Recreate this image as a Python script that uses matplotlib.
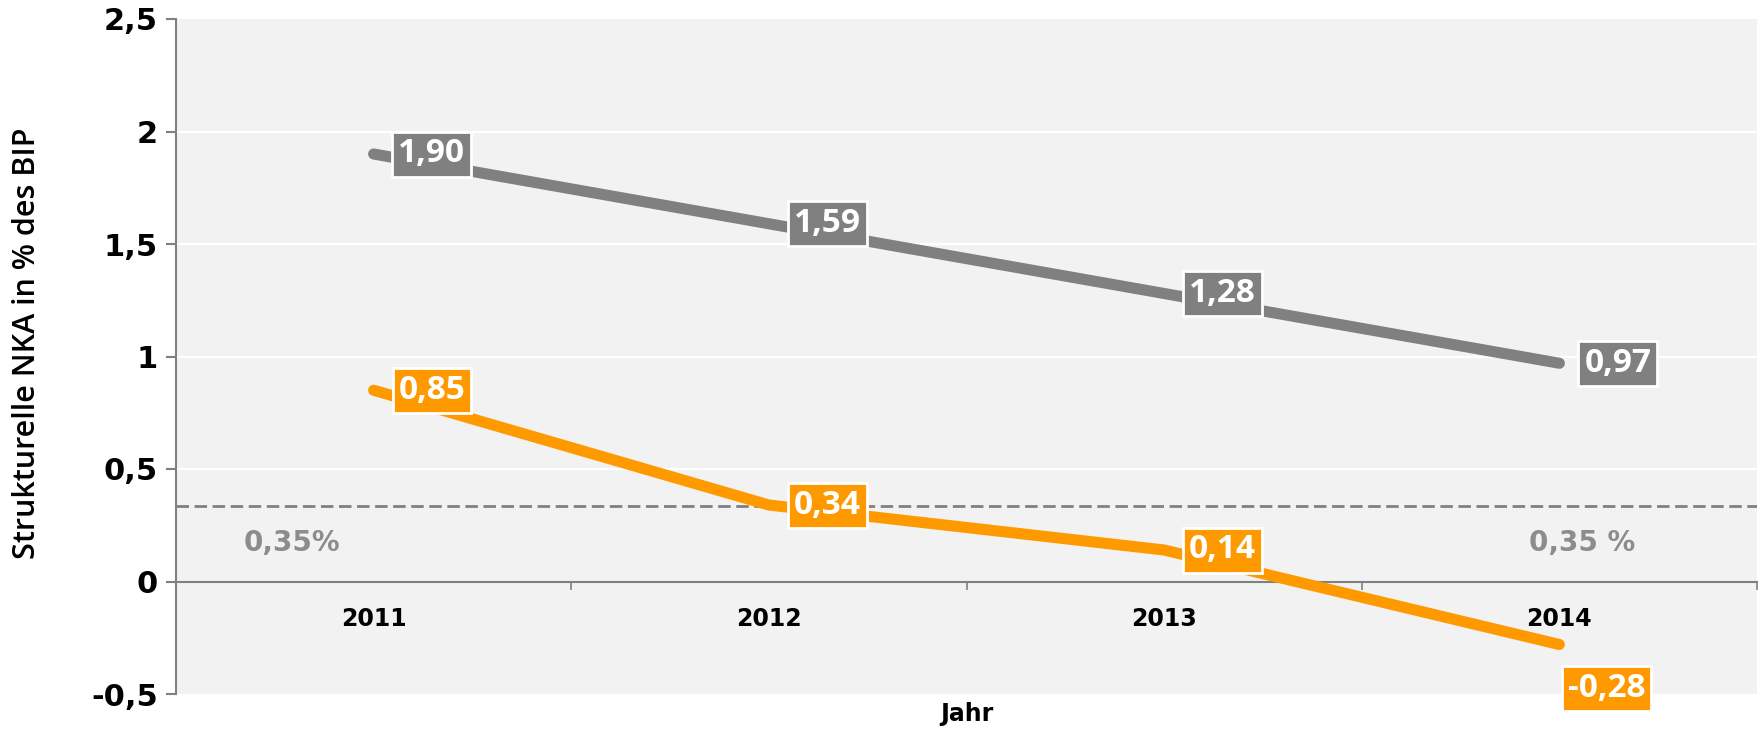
import matplotlib
matplotlib.use('Agg')
import matplotlib.pyplot as plt
import numpy as np

# Daten
jahre = ['2011', '2012', '2013', '2014']
nka_grau = [1.90, 1.59, 1.28, 0.97]
nka_orange = [0.85, 0.34, 0.14, -0.28]
schwelle = 0.335
schwelle_labels = ['0,35%', '0,35 %']
y_ticks = [-0.5, 0, 0.5, 1, 1.5, 2, 2.5]
y_ticklabels = ['-0,5', '0', '0,5', '1', '1,5', '2', '2,5']

GRAU = '#808080'
ORANGE = '#FF9900'
BG = '#F2F2F2'

fig = plt.figure(figsize=(17.61, 7.30), dpi=100)
ax = fig.add_axes([176 / 1761, (730 - 694) / 730, (1757 - 176) / 1761, (694 - 19) / 730])
ax.set_facecolor(BG)

x = np.arange(len(jahre))
ax.set_xlim(-0.5, len(jahre) - 0.5)
ax.set_ylim(-0.5, 2.5)

# Gitter
for yv in y_ticks:
    if yv not in (0, -0.5, 2.5):
        ax.axhline(yv, color='white', lw=1.6, zorder=1)

# Schwelle
ax.axhline(schwelle, color=GRAU, lw=2, dashes=(4.5, 2), zorder=2)
ax.text(-0.206, 0.169, schwelle_labels[0], color='#8C8C8C', fontsize=20,
        fontweight='bold', ha='center', va='center', zorder=2)
ax.text(3.057, 0.169, schwelle_labels[1], color='#8C8C8C', fontsize=20,
        fontweight='bold', ha='center', va='center', zorder=2)

# Linien
ax.plot(x, nka_grau, color=GRAU, lw=8, solid_capstyle='round', zorder=3)
ax.plot(x, nka_orange, color=ORANGE, lw=8, solid_capstyle='round', zorder=3)


def fmt(v):
    return f'{v:.2f}'.replace('.', ',')


def label(xi, yi, farbe, dx=42, dy=0):
    ax.annotate(fmt(yi), (xi, yi), xytext=(dx, dy), textcoords='offset points',
                ha='center', va='center', color='white', fontsize=24,
                family='Open Sans', fontweight='bold', zorder=5,
                annotation_clip=False,
                bbox=dict(boxstyle='square,pad=0.18', fc=farbe, ec='white', lw=2))


for xi, yi in zip(x, nka_grau):
    label(xi, yi, GRAU)
for i, (xi, yi) in enumerate(zip(x, nka_orange)):
    if i == len(x) - 1:
        label(xi, yi, ORANGE, dx=34, dy=-32)
    else:
        label(xi, yi, ORANGE)

# Achsen
for s in ['top', 'right']:
    ax.spines[s].set_visible(False)
ax.spines['left'].set_color(GRAU)
ax.spines['left'].set_linewidth(1.5)
ax.spines['bottom'].set_position(('data', 0))
ax.spines['bottom'].set_color(GRAU)
ax.spines['bottom'].set_linewidth(1.5)

ax.set_yticks(y_ticks)
ax.set_yticklabels(y_ticklabels, fontsize=22, fontweight='bold')
ax.tick_params(axis='y', direction='out', length=7, width=1.5, color=GRAU, pad=6)

ax.set_xticks(x)
ax.set_xticklabels(jahre, fontsize=17, fontweight='bold')
ax.set_xticks(np.arange(len(jahre) + 1) - 0.5, minor=True)
ax.tick_params(axis='x', which='major', length=0, pad=18)
ax.tick_params(axis='x', which='minor', direction='out', length=6, width=1.2, color=GRAU)

ax.set_ylabel('Strukturelle NKA in % des BIP', fontsize=22, family='Open Sans',
              fontweight='semibold')
ax.yaxis.set_label_coords(-0.085, 0.52)
fig.text((176 + 1757) / 2 / 1761, 1 - 714 / 730, 'Jahr', ha='center', va='center',
         fontsize=17, fontweight='bold')

fig.savefig('out.png', dpi=100, facecolor='white')
